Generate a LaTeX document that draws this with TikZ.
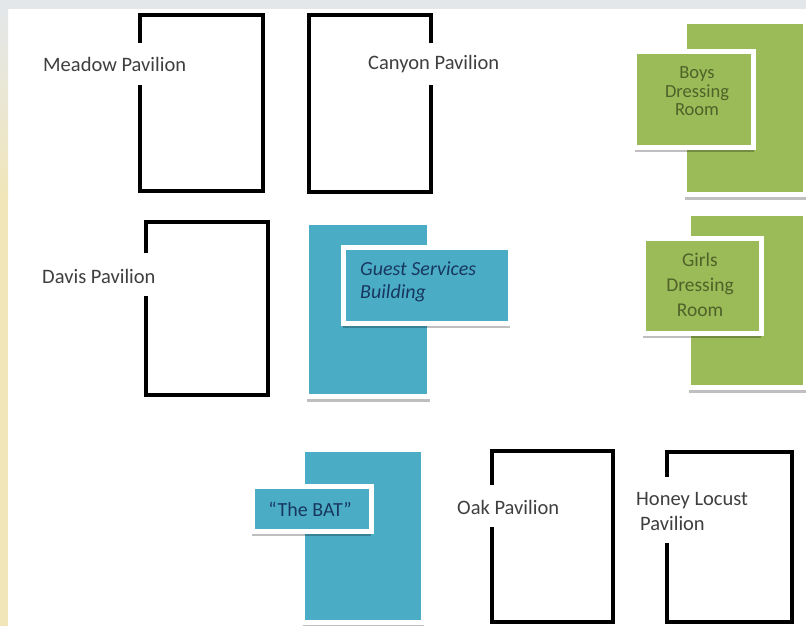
\documentclass[tikz,border=0pt]{standalone}
\usepackage{fontspec}
\setmainfont{Carlito}
\usetikzlibrary{shadows}

\definecolor{roomgreen}{HTML}{9BBB59}
\definecolor{roomblue}{HTML}{4BACC6}
\definecolor{greentext}{HTML}{4F6228}
\definecolor{bluetext}{HTML}{17375E}
\definecolor{labelgray}{HTML}{3F3F3F}
\definecolor{bandgray}{HTML}{E4E7EA}
\definecolor{stripbeige}{HTML}{F1E6B9}

\tikzset{
    wall/.style={line width=3.5pt, line join=miter},
    lbl/.style={anchor=west, inner sep=0pt, text=labelgray, align=left,
        font=\fontsize{20.5}{25}\selectfont},
    block/.style={fill=#1, draw=white, line width=5pt, inner sep=0pt,
        drop shadow={shadow xshift=0pt, shadow yshift=-5pt, fill=black, opacity=0.25}},
    roomtext/.style={inner sep=0pt, align=center, text=greentext}
}

\begin{document}
\begin{tikzpicture}[x=1pt, y=-1pt]
    \useasboundingbox (0,0) rectangle (806,626);
    % page background
    \fill[white] (0,0) rectangle (806,626);
    \fill[bandgray] (0,0) rectangle (806,9);
    \shade[top color=bandgray, bottom color=stripbeige] (0,9) rectangle (8,200);
    \fill[stripbeige] (0,200) rectangle (8,626);

    % open pavilions
    \draw[wall] (140,43) -- (140,15) -- (263,15) -- (263,191) -- (140,191) -- (140,85);
    \node[lbl] (meadow) at (43,64) {Meadow Pavilion};
    \draw[wall] (431,43) -- (431,15) -- (309,15) -- (309,192) -- (431,192) -- (431,85);
    \node[lbl] (canyon) at (368,64) {Canyon Pavilion};
    \draw[wall] (146,253) -- (146,222) -- (268,222) -- (268,395) -- (146,395) -- (146,296);
    \node[lbl] (davis) at (42,276) {Davis Pavilion};
    \draw[wall] (492,485) -- (492,451) -- (613,451) -- (613,622) -- (492,622) -- (492,527);
    \node[lbl] (oak) at (457,507) {Oak Pavilion};
    \draw[wall] (667,477) -- (667,452) -- (792,452) -- (792,622) -- (667,622) -- (667,543);
    \node[lbl] (honey) at (636,511.5) {Honey Locust\\\hspace*{4pt}Pavilion};

    % dressing rooms
    \node[block=roomgreen, minimum width=121pt, minimum height=173pt] (boys) at (745,108) {};
    \node[block=roomgreen, minimum width=119pt, minimum height=95pt] (boyssign) at (694,99.5) {};
    \node[roomtext, font=\fontsize{18.5}{18.5}\selectfont] (boystxt) at (697,91.5) {Boys\\Dressing\\Room};
    \node[block=roomgreen, minimum width=117pt, minimum height=174pt] (girls) at (747,300.5) {};
    \node[block=roomgreen, minimum width=118pt, minimum height=95pt] (girlssign) at (702,285.5) {};
    \node[roomtext, font=\fontsize{19.5}{25}\selectfont] (girlstxt) at (700,285) {Girls\\Dressing\\Room};

    % guest services and the bat
    \node[block=roomblue, minimum width=123pt, minimum height=174pt] (guest) at (368,309.5) {};
    \node[block=roomblue, minimum width=167pt, minimum height=76pt] (guestsign) at (426.5,285) {};
    \node[anchor=west, inner sep=0pt, align=left, text=bluetext,
        font=\fontsize{20}{23}\itshape] (guesttxt) at (360,281.5) {Guest Services\\Building};
    \node[block=roomblue, minimum width=121pt, minimum height=173pt] (bat) at (363,536) {};
    \node[block=roomblue, minimum width=119pt, minimum height=45pt] (batsign) at (311.5,508.5) {};
    \node[inner sep=0pt, text=bluetext, font=\fontsize{20}{23}\selectfont] (battxt) at (310,509) {``The BAT''};
\end{tikzpicture}
\end{document}
